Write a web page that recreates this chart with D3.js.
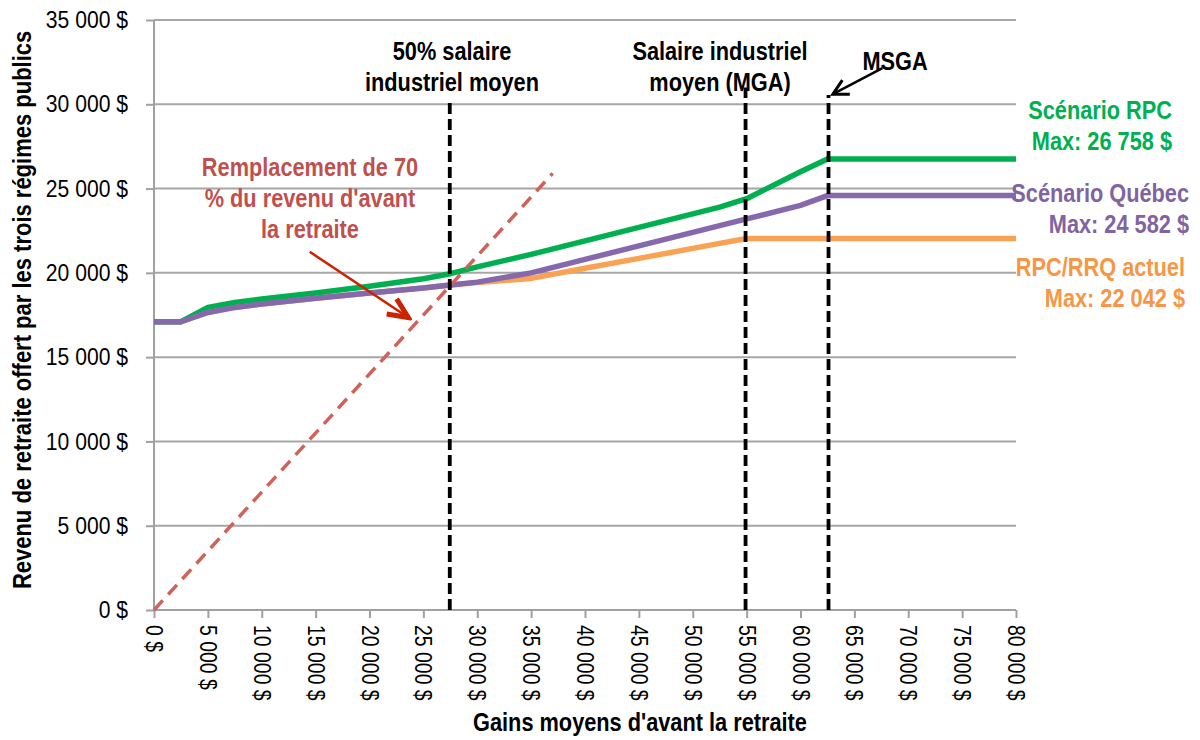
<!DOCTYPE html>
<html>
<head>
<meta charset="utf-8">
<script src="https://cdn.jsdelivr.net/npm/d3@7"></script>
<style>
  body { margin: 0; background: #fff; }
  svg text { font-family: "Liberation Sans", Arial, sans-serif; }
  .axis path, .axis line { stroke: #a0a0a0; stroke-width: 2; }
  .axis text { font-size: 24px; fill: #000; }
  .bold { font-weight: bold; }
</style>
</head>
<body>
<div id="chart"></div>
<script>
// gains moyens d'avant la retraite ($)
var earnings = [0, 2500, 5000, 7500, 10000, 15000, 20000, 25000, 27500, 30000, 35000,
                40000, 45000, 50000, 52500, 55000, 60000, 62500, 65000, 70000, 75000, 80000];

// revenu de retraite, trois regimes publics ($)
var scenarioRPC = [17100, 17100, 17950, 18250, 18450, 18800, 19200, 19650, 19950, 20350, 21100,
                   21900, 22700, 23500, 23900, 24400, 26000, 26758, 26758, 26758, 26758, 26758];
var scenarioQuebec = [17100, 17100, 17650, 17950, 18150, 18500, 18800, 19100, 19280, 19450, 20000,
                      20800, 21600, 22400, 22800, 23200, 24000, 24582, 24582, 24582, 24582, 24582];
var rpcActuel = [17100, 17100, 17650, 17950, 18150, 18500, 18800, 19100, 19280, 19420, 19670,
                 20270, 20860, 21450, 21750, 22042, 22042, 22042, 22042, 22042, 22042, 22042];

// droite de remplacement de 70 %
var replX = [0, 37000];
var replRate = 0.7;

// lignes verticales : 50 % MGA, MGA, MSGA
var refX = [27450, 54900, 62600];
var refTop = [30300, 31000, 30550];

var yTicks = d3.range(0, 35001, 5000);
var xTicks = d3.range(0, 80001, 5000);

var width = 1200, height = 740;
var margin = { left: 154, right: 184, top: 20, bottom: 130 };

var svg = d3.select('#chart').append('svg')
    .attr('width', width).attr('height', height);

var x = d3.scaleLinear().domain([0, 80000]).range([margin.left, width - margin.right]);
var y = d3.scaleLinear().domain([0, 35000]).range([height - margin.bottom, margin.top]);

var fr = d3.formatLocale({ decimal: ',', thousands: ' ', grouping: [3], currency: ['', ' $'] });
var money = fr.format('$,.0f');

// no narrow font installed: squeeze the glyphs horizontally
function condense(sel, k) {
    sel.each(function() {
        var len = this.getComputedTextLength();
        d3.select(this).attr('textLength', len * k).attr('lengthAdjust', 'spacingAndGlyphs');
    });
}

// quadrillage
svg.append('g').selectAll('line')
    .data(yTicks.slice(1))
    .enter().append('line')
    .attr('x1', x(0)).attr('x2', x(80000))
    .attr('y1', function(d) { return y(d); })
    .attr('y2', function(d) { return y(d); })
    .attr('stroke', '#a6a6a6').attr('stroke-width', 2);

var yAxis = d3.axisLeft(y).tickValues(yTicks).tickSize(8).tickPadding(18).tickFormat(money);
var gy = svg.append('g').attr('class', 'axis')
    .attr('transform', 'translate(' + x(0) + ',0)')
    .call(yAxis);
gy.select('.domain').attr('d', 'M0,' + y(0) + 'V' + y(35000));
condense(gy.selectAll('.tick text'), 0.88);

var xAxis = d3.axisBottom(x).tickValues(xTicks).tickSize(8).tickFormat(money);
var gx = svg.append('g').attr('class', 'axis')
    .attr('transform', 'translate(0,' + y(0) + ')')
    .call(xAxis);
gx.select('.domain').attr('d', 'M' + x(0) + ',0H' + x(80000));
gx.selectAll('.tick text')
    .attr('text-anchor', 'start')
    .attr('transform', 'translate(0,15) rotate(90)')
    .attr('x', 0).attr('y', 0).attr('dy', '0.35em');
condense(gx.selectAll('.tick text'), 0.81);

// series
var line = d3.line()
    .x(function(d, i) { return x(earnings[i]); })
    .y(function(d) { return y(d); });

var series = [
    { values: rpcActuel, color: '#f9a253' },
    { values: scenarioRPC, color: '#00b050' },
    { values: scenarioQuebec, color: '#8669ad' }
];
svg.selectAll('.serie')
    .data(series)
    .enter().append('path')
    .attr('class', 'serie')
    .attr('d', function(d) { return line(d.values); })
    .attr('fill', 'none')
    .attr('stroke', function(d) { return d.color; })
    .attr('stroke-width', 5.5)
    .attr('stroke-linejoin', 'round');

// 70 %
svg.append('path')
    .attr('d', d3.line()
        .x(function(d) { return x(d); })
        .y(function(d) { return y(d * replRate); })(replX))
    .attr('fill', 'none')
    .attr('stroke', '#cf6259')
    .attr('stroke-width', 3.5)
    .attr('stroke-dasharray', '13,8');

// lignes verticales
svg.selectAll('.ref')
    .data(refX)
    .enter().append('line')
    .attr('class', 'ref')
    .attr('x1', function(d) { return x(d); })
    .attr('x2', function(d) { return x(d); })
    .attr('y1', y(0))
    .attr('y2', function(d, i) { return y(refTop[i]); })
    .attr('stroke', '#000')
    .attr('stroke-width', 3.8)
    .attr('stroke-dasharray', '11,5');

// fleches
var defs = svg.append('defs');
defs.append('marker').attr('id', 'redHead')
    .attr('viewBox', '-24 -12 28 24').attr('refX', 0).attr('refY', 0)
    .attr('markerWidth', 28).attr('markerHeight', 24)
    .attr('markerUnits', 'userSpaceOnUse').attr('orient', 'auto')
    .append('path').attr('d', 'M-20,-9L0,0L-20,9')
    .attr('fill', 'none').attr('stroke', '#cc2200').attr('stroke-width', 5)
    .attr('stroke-linejoin', 'miter');
defs.append('marker').attr('id', 'blackHead')
    .attr('viewBox', '-20 -10 24 20').attr('refX', 0).attr('refY', 0)
    .attr('markerWidth', 24).attr('markerHeight', 20)
    .attr('markerUnits', 'userSpaceOnUse').attr('orient', 'auto')
    .append('path').attr('d', 'M-15,-8L0,0L-15,8')
    .attr('fill', 'none').attr('stroke', '#000').attr('stroke-width', 3);

svg.append('line')
    .attr('x1', x(14450)).attr('y1', y(21250))
    .attr('x2', x(23600)).attr('y2', y(17350))
    .attr('stroke', '#cc2200').attr('stroke-width', 2.5)
    .attr('marker-end', 'url(#redHead)');

svg.append('line')
    .attr('x1', x(67600)).attr('y1', y(32150))
    .attr('x2', x(63000)).attr('y2', y(30600))
    .attr('stroke', '#000').attr('stroke-width', 2.5)
    .attr('marker-end', 'url(#blackHead)');

// annotations (squeezed with a scale transform)
function block(lines, px, py, anchor, color) {
    var t = svg.append('text').attr('class', 'bold')
        .attr('transform', 'translate(' + px + ',' + py + ') scale(0.87,1)')
        .attr('text-anchor', anchor)
        .style('font-size', '25px').attr('fill', color);
    lines.forEach(function(s, i) {
        t.append('tspan').attr('x', 0).attr('y', i * 31).text(s);
    });
}
block(['50% salaire', 'industriel moyen'], 452, 60, 'middle', '#000');
block(['Salaire industriel', 'moyen (MGA)'], 720, 60, 'middle', '#000');
block(['MSGA'], 895, 70, 'middle', '#000');
block(['Remplacement de 70', '% du revenu d\'avant', 'la retraite'], 310, 176, 'middle', '#c0504d');
block(['Scénario RPC', 'Max: 26 758 $'], 1172, 119, 'end', '#00b050');
block(['Scénario Québec', 'Max: 24 582 $'], 1189, 202, 'end', '#8064a2');
block(['RPC/RRQ actuel', 'Max: 22 042 $'], 1185, 276, 'end', '#f79646');

// titres des axes
svg.append('text').attr('class', 'bold')
    .attr('transform', 'translate(31,' + y(17800) + ') rotate(-90) scale(0.88,1)')
    .attr('text-anchor', 'middle')
    .style('font-size', '25px')
    .text('Revenu de retraite offert par les trois régimes publics');

svg.append('text').attr('class', 'bold')
    .attr('transform', 'translate(640,731) scale(0.87,1)')
    .attr('text-anchor', 'middle')
    .style('font-size', '25px')
    .text('Gains moyens d\'avant la retraite');
</script>
</body>
</html>
